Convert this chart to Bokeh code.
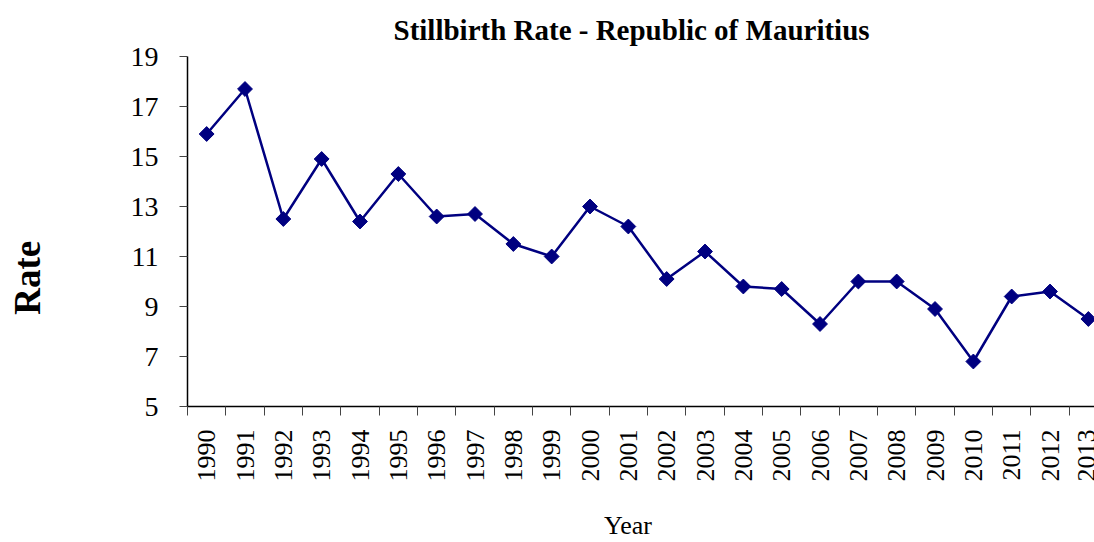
import math
from bokeh.plotting import figure
from bokeh.models import FixedTicker, Range1d, ColumnDataSource
from bokeh.embed import file_html
from bokeh.resources import INLINE

years = ["1990", "1991", "1992", "1993", "1994", "1995", "1996", "1997",
         "1998", "1999", "2000", "2001", "2002", "2003", "2004", "2005",
         "2006", "2007", "2008", "2009", "2010", "2011", "2012", "2013"]
rates = [15.9, 17.7, 12.5, 14.9, 12.4, 14.3, 12.6, 12.7,
         11.5, 11.0, 13.0, 12.2, 10.1, 11.2, 9.8, 9.7,
         8.3, 10.0, 10.0, 8.9, 6.8, 9.4, 9.6, 8.5]
y_ticks = [5, 7, 9, 11, 13, 15, 17, 19]

FONT = "Liberation Serif"
NAVY = "#000080"
NBSP = "\u00a0"

centers = [i + 0.5 for i in range(len(years))]
bounds = list(range(len(years) + 1))

src = ColumnDataSource(dict(x=centers, y=rates, year=years))

p = figure(width=1094, height=542, output_backend="svg", toolbar_location=None,
           x_range=Range1d(0, 23.66), y_range=Range1d(5, 19),
           min_border_left=187, min_border_right=0, min_border_top=56,
           min_border_bottom=135)
p.outline_line_color = None
p.xgrid.visible = False
p.ygrid.visible = False
p.background_fill_color = "white"
p.border_fill_color = "white"

p.title.text = "Stillbirth Rate - Republic of Mauritius"
p.title.text_font = FONT
p.title.text_font_size = "29px"
p.title.text_font_style = "bold"
p.title.align = "left"
p.title.offset = 206
p.title.standoff = 22
p.title.text_color = "black"

p.line("x", "y", source=src, line_color=NAVY, line_width=2.5)
p.scatter("x", "y", source=src, marker="square", angle=math.pi / 4,
          size=10.5, fill_color=NAVY, line_color=NAVY)

xa = p.xaxis[0]
xa.ticker = FixedTicker(ticks=centers, minor_ticks=bounds)
xa.major_label_overrides = {c: y for c, y in zip(centers, years)}
xa.major_label_orientation = math.pi / 2
xa.major_tick_out = 0
xa.major_tick_in = 0
xa.minor_tick_out = 9
xa.minor_tick_in = 0
xa.minor_tick_line_color = "#444444"
xa.axis_line_color = "black"
xa.axis_line_width = 1.5
xa.major_label_text_font = FONT
xa.major_label_text_font_size = "26px"
xa.major_label_text_color = "black"
xa.major_label_standoff = 14
# trailing no-break spaces shift the centred title slightly left, as in the original
xa.axis_label = "Year" + NBSP * 4
xa.axis_label_text_font = FONT
xa.axis_label_text_font_size = "26px"
xa.axis_label_text_font_style = "normal"
xa.axis_label_text_color = "black"
xa.axis_label_standoff = 26

ya = p.yaxis[0]
ya.ticker = FixedTicker(ticks=y_ticks, minor_ticks=[])
ya.major_tick_out = 8
ya.major_tick_in = 0
ya.major_tick_line_color = "#444444"
ya.axis_line_color = "black"
ya.axis_line_width = 1.5
ya.major_label_text_font = FONT
ya.major_label_text_font_size = "28px"
ya.major_label_text_color = "black"
ya.major_label_standoff = 21
# trailing no-break spaces shift the centred title down, as in the original
ya.axis_label = "Rate" + NBSP * 10
ya.axis_label_text_font = FONT
ya.axis_label_text_font_size = "37px"
ya.axis_label_text_font_style = "bold"
ya.axis_label_text_color = "black"
ya.axis_label_standoff = 80

open("out.html", "w").write(file_html(p, INLINE))
